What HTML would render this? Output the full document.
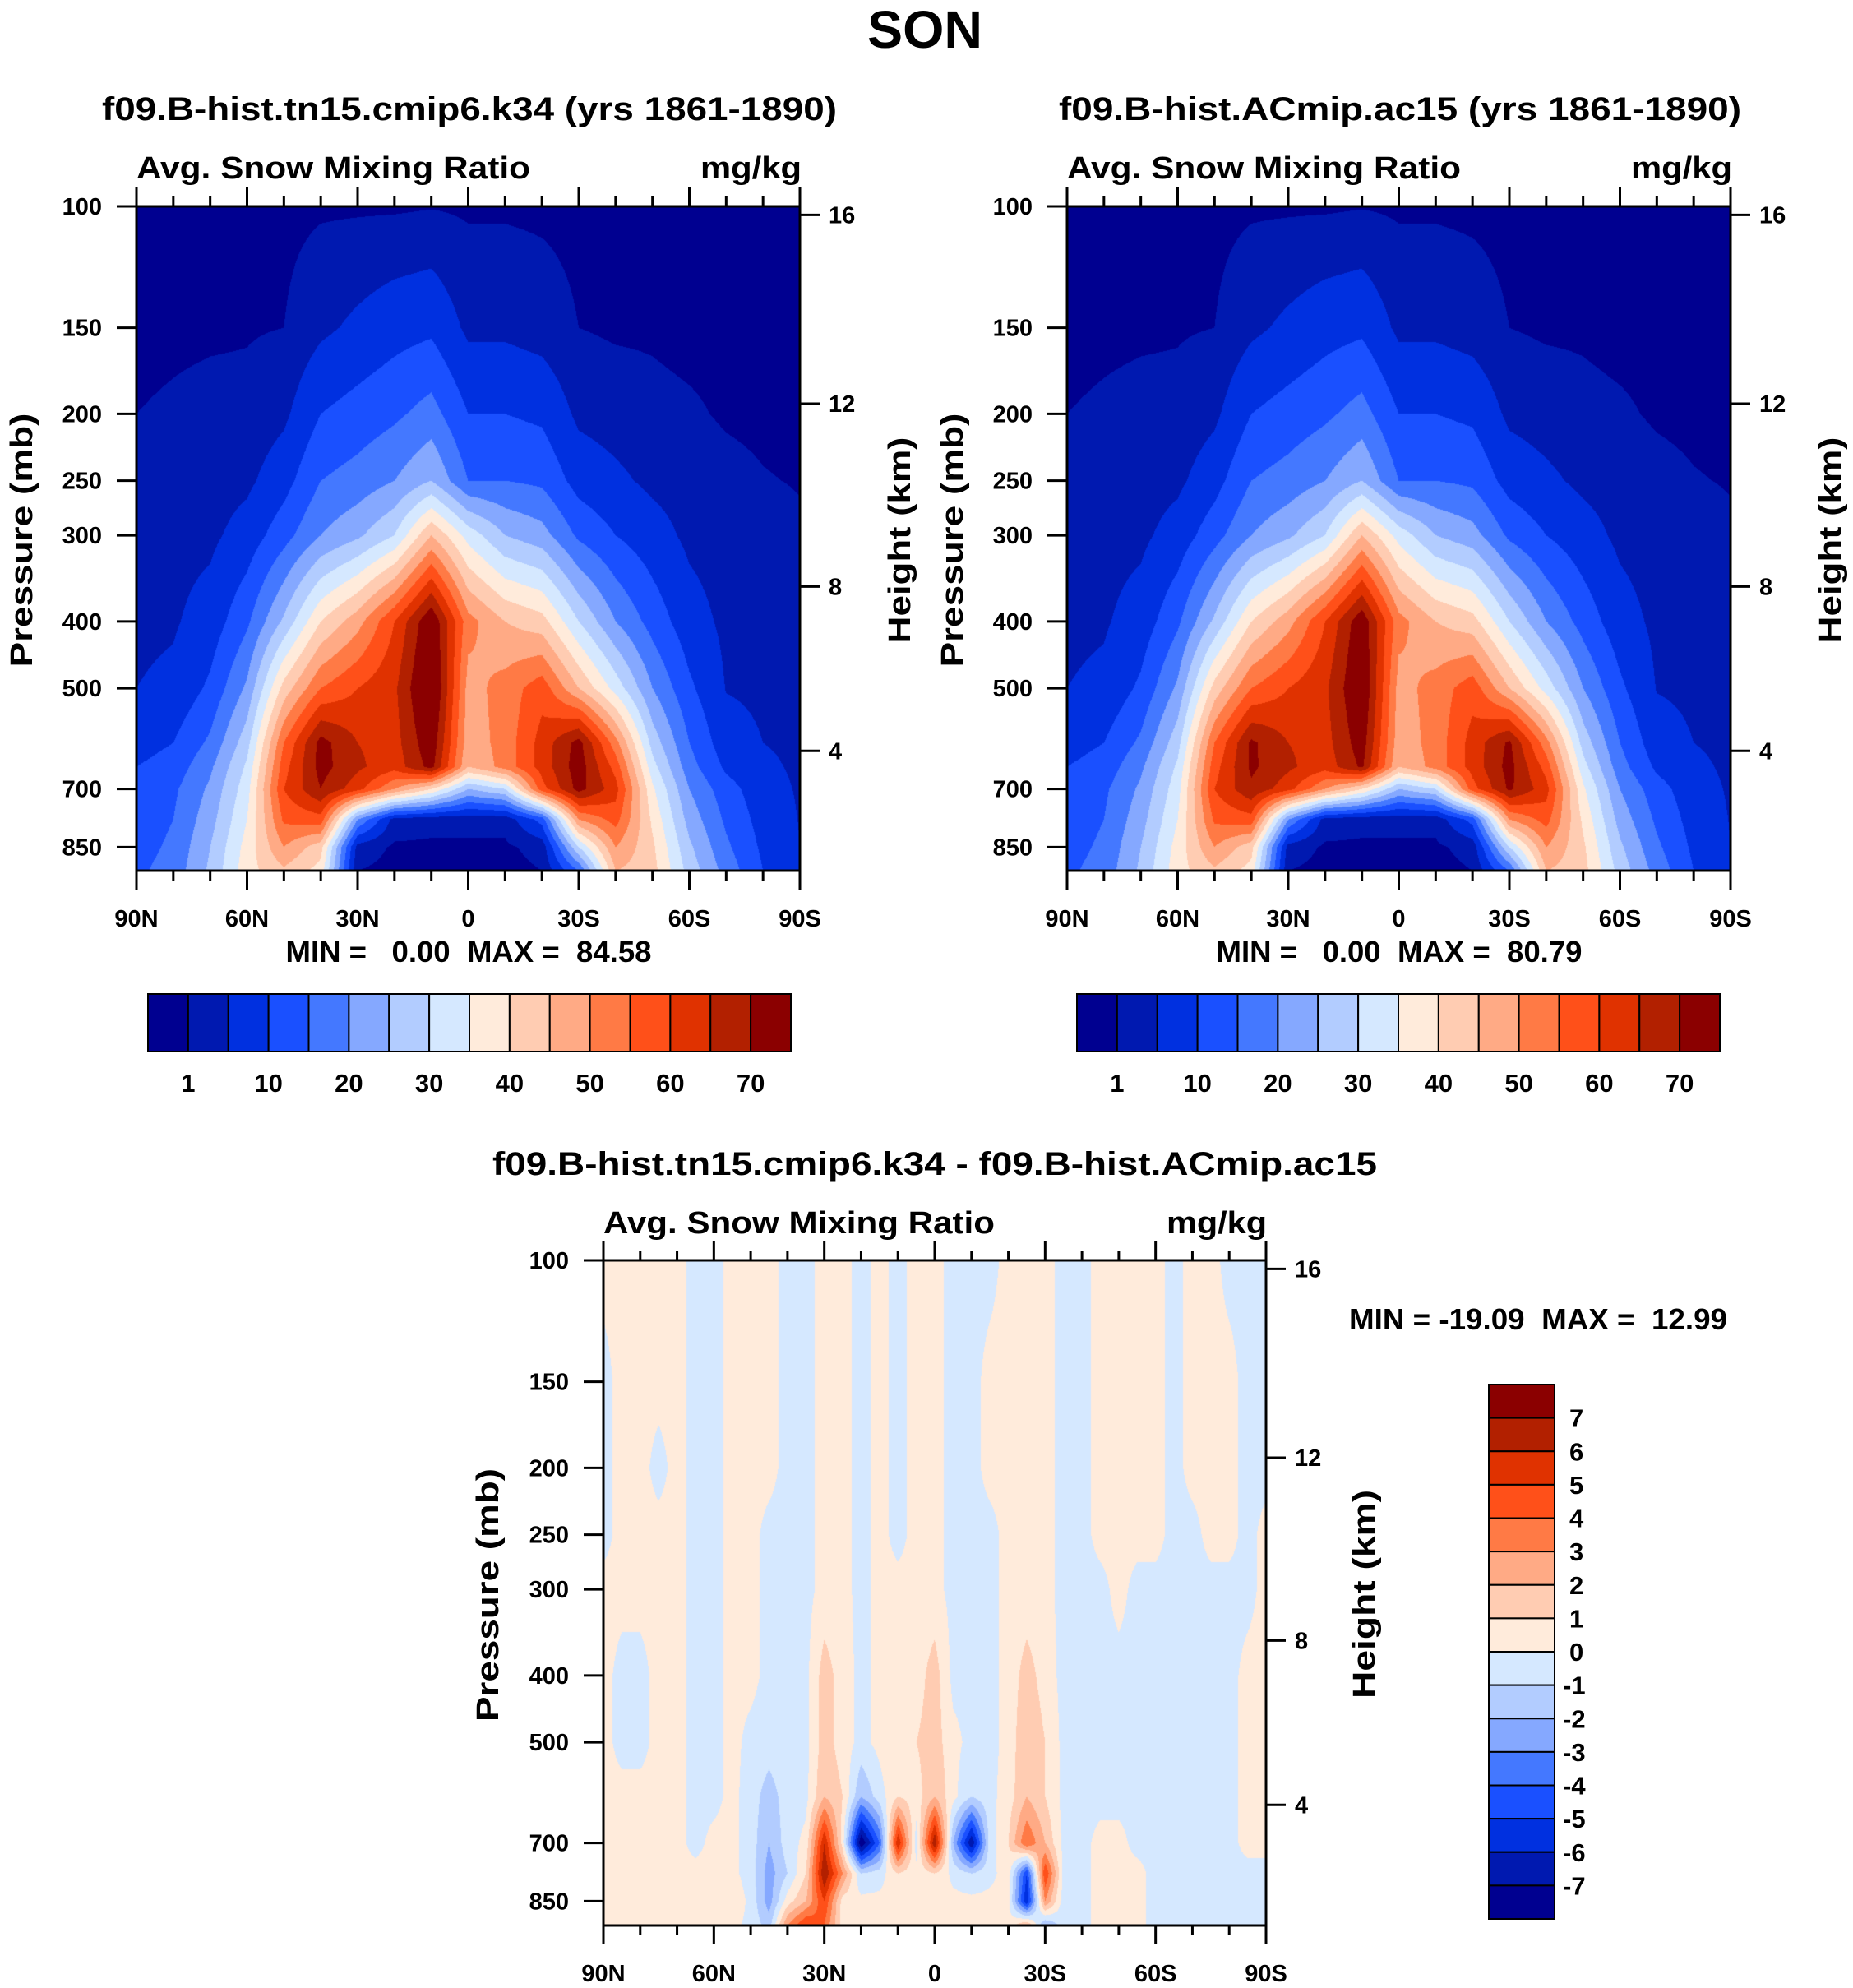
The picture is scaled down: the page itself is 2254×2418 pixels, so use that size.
<!DOCTYPE html>
<html><head><meta charset="utf-8">
<style>
html,body{margin:0;padding:0;background:#fff;}
#root{position:relative;width:2254px;height:2418px;overflow:hidden;background:#fff;}
canvas{position:absolute;}
svg{position:absolute;left:0;top:0;}
text{font-family:"Liberation Sans",Arial,sans-serif;font-weight:bold;fill:#000;white-space:pre;}
</style></head>
<body>
<div id="root">
<canvas id="cA" width="807" height="808" style="left:166px;top:251px"></canvas>
<canvas id="cB" width="807" height="808" style="left:1298px;top:251px"></canvas>
<canvas id="cC" width="806" height="809" style="left:734px;top:1533px"></canvas>
<svg id="ov" width="2254" height="2418" viewBox="0 0 2254 2418"></svg>
</div>
<script>
// ---- data ----
const lats = [90,80,70,60,50,40,30,20,10,0,-10,-20,-30,-40,-50,-60,-70,-80,-90];
const levels = [100,150,200,250,300,400,500,600,650,700,775,850,920];
// columns per latitude (values at each level, top to bottom)
const k34Cols = [
 [0,0,1,2,3,4,5,8,10,11,12,13,14],
 [0,0.3,1.5,2.5,3.5,4.5,6,10,12,14,15,16,17],
 [0,0.5,2,3,4,7,11,16,19,21,23,25,26],
 [0,0.7,2,4,7,14,21,28,31,33,35,37,38],
 [0,1,4,8,13,26,42,55,58,60,56,50,44],
 [0.5,4,10,15,20,40,55,72,72,70,58,42,38],
 [0.5,6,12,17,24,48,60,65,66,62,20,3,1],
 [0.5,8,14,20,30,60,64,63,62,50,3,0.5,0],
 [0.8,9,17,25,45,75,78,74,72,40,2,0.5,0],
 [0.5,4,10,15,33,52,48,47,45,25,2,0.5,0],
 [0.5,4,10,15,25,45,52,52,52,30,2,0.5,0],
 [0.3,3,9,14,22,42,58,62,62,58,12,2,1],
 [0,1,4,8,14,30,45,72,73,72,50,30,15],
 [0,0.5,3,6,10,20,33,52,58,62,57,50,45],
 [0,0.5,2,4,7,13,20,28,32,36,39,41,42],
 [0,0,1.5,3,4,7,11,15,17,20,23,26,28],
 [0,0,0.6,2,3,4,4.8,7,9,12,14,16,18],
 [0,0,0.3,1.2,2.5,3.5,4.2,5,6,7,8,9,10],
 [0,0,0,0.8,1.5,2.5,3.5,4,4.2,4.5,4.8,5,5]
];
const ac15Cols = [
 [0,0,1,2,3,4,5,8,10,11,12,13,14],
 [0,0.3,1.5,2.5,3.5,4.5,6,10,12,14,15,16,17],
 [0,0.5,2,3,4,7,11,16,19,21,23,25,26],
 [0,0.7,2,4,7,14,21,28,31,33,35,37,38],
 [0,1,4,8,13,26,42,55,58,60,56,50,44],
 [0.5,4,10,15,20,40,55,71,71,69,58,42,38],
 [0.5,6,12,17,24,48,60,65,66,62,20,3,1],
 [0.5,8,14,20,30,60,64,63,62,50,3,0.5,0],
 [0.8,9,17,25,45,74,76,73,71,40,2,0.5,0],
 [0.5,4,10,15,33,52,48,47,45,25,2,0.5,0],
 [0.5,4,10,15,25,45,52,52,52,30,2,0.5,0],
 [0.3,3,9,14,22,42,58,62,62,58,12,2,1],
 [0,1,4,8,14,30,45,71,72,71,50,30,15],
 [0,0.5,3,6,10,20,33,52,58,62,57,50,45],
 [0,0.5,2,4,7,13,20,28,32,36,39,41,42],
 [0,0,1.5,3,4,7,11,15,17,20,23,26,28],
 [0,0,0.6,2,3,4,4.8,7,9,12,14,16,18],
 [0,0,0.3,1.2,2.5,3.5,4.2,5,6,7,8,9,10],
 [0,0,0,0.8,1.5,2.5,3.5,4,4.2,4.5,4.8,5,5]
];
const diffLats = [90,85,80,75,70,65,60,55,50,45,40,35,30,25,20,15,10,5,0,-5,-10,-15,-20,-25,-30,-35,-40,-45,-50,-55,-60,-65,-70,-75,-80,-85,-90];
const diffLevels = [100,150,200,250,300,400,500,600,700,775,850,920];
const diffCols = [
 [.3,-.3,-.3,-.3,.3,.3,.3,.3,.3,.3,.3,.3],
 [.3,.3,.3,.3,.3,-.3,-.3,.3,.3,.3,.3,.3],
 [.3,.3,.3,.3,.3,-.3,-.3,.3,.3,.3,.3,.3],
 [.3,.3,-.3,.3,.3,.3,.3,.3,.3,.3,.3,.3],
 [.3,.3,.3,.3,.3,.3,.3,.3,.3,.3,.3,.3],
 [-.3,-.3,-.3,-.3,-.3,-.3,-.3,-.3,-.3,.3,.3,.3],
 [-.3,-.3,-.3,-.3,-.3,-.3,-.3,-.3,.3,.3,.3,.3],
 [.3,.3,.3,.3,.3,.3,.3,.3,.3,.3,.8,.3],
 [.3,.3,.3,.3,.3,.3,-.3,-.5,-.5,-.5,-.3,-.3],
 [.3,.3,.3,-.3,-.3,-.3,-.5,-1.5,-2,-2.5,-2.5,-1.5],
 [-.3,-.3,-.3,-.3,-.3,-.3,-.3,-.5,-.5,-1,.5,3],
 [-.3,-.3,-.3,-.3,-.3,-.3,-.3,-.3,.3,1,2,5],
 [.3,.3,.3,.3,.3,1.5,1.5,2,6,7,5,4],
 [.3,.3,.3,.3,.3,.5,.5,1,.5,3,.5,.5],
 [-.3,-.3,-.3,-.3,-.3,-.3,-.3,-2,-8,-1,.3,.3],
 [.3,.3,.3,.3,.3,.3,.3,-.5,-4,-.5,.3,.3],
 [-.3,-.3,-.3,-.3,.3,.5,1,1,6,1,.3,.3],
 [.3,.3,.3,.3,.3,.5,1,.5,-.5,.3,.3,.3],
 [.3,.3,.3,.3,.3,1.5,1.5,2,7,1,.3,.3],
 [-.3,-.3,-.3,-.3,-.3,-.3,.3,.3,-2,-.3,.3,.3],
 [-.3,-.3,-.3,-.3,-.3,-.3,-.3,-1,-7,-1,.3,.3],
 [-.3,.3,.3,-.3,-.3,-.3,-.3,-.3,-.5,-.3,.3,.3],
 [.3,.3,.3,.3,.3,.3,.3,.5,1,.5,.3,.3],
 [.3,.3,.3,.3,.3,1.5,2,2,4,-5,-6,2],
 [.3,.3,.3,.3,.3,.5,1,1,2,5,3,-2],
 [-.3,-.3,-.3,-.3,-.3,-.3,-.3,-.3,-.3,-.3,-.5,-.5],
 [-.3,-.3,-.3,-.3,-.3,-.3,-.3,-.3,-.3,-.3,-.3,-.3],
 [.3,.3,.3,.3,-.3,-.3,-.3,-.3,.3,.3,.3,.3],
 [.3,.3,.3,.3,.3,-.3,-.3,-.3,.3,.3,.3,.3],
 [.3,.3,.3,.3,-.3,-.3,-.3,-.3,-.3,.3,.3,.3],
 [.3,.3,.3,.3,-.3,-.3,-.3,-.3,-.3,-.3,-.3,-.3],
 [-.3,-.3,-.3,-.3,-.3,-.3,-.3,-.3,-.3,-.3,-.3,-.3],
 [.3,.3,.3,-.3,-.3,-.3,-.3,-.3,-.3,-.3,-.3,-.3],
 [.3,.3,.3,.3,-.3,-.3,-.3,-.3,-.3,-.3,-.3,-.3],
 [-.3,.3,.3,.3,-.3,-.3,-.3,-.3,-.3,-.3,-.3,-.3],
 [-.3,-.3,-.3,-.3,-.3,.3,.3,.3,.3,-.3,-.3,-.3],
 [-.3,-.3,-.3,.3,.3,.3,.3,.3,.3,-.3,-.3,-.3]
];
const snowThresholds = [1,5,10,15,20,25,30,35,40,45,50,55,60,65,70];
const snowLabels = ['1','10','20','30','40','50','60','70'];
const diffThresholds = [-7,-6,-5,-4,-3,-2,-1,0,1,2,3,4,5,6,7];
const diffLabels = ['7','6','5','4','3','2','1','0','-1','-2','-3','-4','-5','-6','-7'];
const pressureTicks = [100,150,200,250,300,400,500,700,850];
const kmTicks = [4,8,12,16];
const latMajor = [90,60,30,0,-30,-60,-90];
const latMajorLabels = ['90N','60N','30N','0','30S','60S','90S'];
const palette = ['#000090','#0019b0','#0030e0','#1a50ff','#4478ff','#85a8ff','#b2ccff','#d5e8ff','#ffebdb','#ffccb2','#ffaa85','#ff7a45','#ff5019','#e03200','#b22000','#8b0000'];

// ---- scales ----
const PPD = 838.5;
const PA = {x:166,y:251,w:807,h:808};
const PB = {x:1298,y:251,w:807,h:808};
const PC = {x:734,y:1533,w:806,h:809};
function yOf(p,P){return P.y+(Math.log10(p)-2)*PPD;}
function xOf(lat,P){return P.x+(90-lat)/180*P.w;}
function pOfKm(z){const m=z*1000; return m<=11000?1013.25*Math.pow(1-2.25577e-5*m,5.2559):226.32*Math.exp(-(m-11000)/6341.6);}
function hex(c){return [parseInt(c.substr(1,2),16),parseInt(c.substr(3,2),16),parseInt(c.substr(5,2),16)];}
const palRGB = palette.map(hex);

function renderField(id,P,la,lev,cols,thr){
  const cv=document.getElementById(id), ctx=cv.getContext('2d');
  const W=cv.width,H=cv.height, img=ctx.createImageData(W,H), d=img.data;
  const lg=lev.map(v=>Math.log10(v));
  const rowK=[],rowF=[];
  for(let y=0;y<H;y++){
    const lp=2+(y+0.5)/PPD; let k=0;
    while(k<lg.length-2 && lp>lg[k+1]) k++;
    rowK.push(k); rowF.push(Math.min(1,Math.max(0,(lp-lg[k])/(lg[k+1]-lg[k]))));
  }
  const colJ=[],colF=[];
  for(let x=0;x<W;x++){
    const lat=90-(x+0.5)/W*180; let j=0;
    while(j<la.length-2 && lat<la[j+1]) j++;
    colJ.push(j); colF.push(Math.min(1,Math.max(0,(la[j]-lat)/(la[j]-la[j+1]))));
  }
  for(let y=0;y<H;y++){const k=rowK[y],fy=rowF[y];
    for(let x=0;x<W;x++){const j=colJ[x],fx=colF[x];
      const a=cols[j][k],b=cols[j+1][k],c=cols[j][k+1],e=cols[j+1][k+1];
      const v=(a*(1-fx)+b*fx)*(1-fy)+(c*(1-fx)+e*fx)*fy;
      let idx=0; while(idx<thr.length && v>=thr[idx]) idx++;
      const col=palRGB[idx], o=(y*W+x)*4;
      d[o]=col[0];d[o+1]=col[1];d[o+2]=col[2];d[o+3]=255;}}
  ctx.putImageData(img,0,0);
}
renderField('cA',PA,lats,levels,k34Cols,snowThresholds);
renderField('cB',PB,lats,levels,ac15Cols,snowThresholds);
renderField('cC',PC,diffLats,diffLevels,diffCols,diffThresholds);

// ---- overlay ----
const NS='http://www.w3.org/2000/svg', svg=document.getElementById('ov');
function mk(tag,attrs){const e=document.createElementNS(NS,tag);for(const k in attrs)e.setAttribute(k,attrs[k]);svg.appendChild(e);return e;}
function line(x1,y1,x2,y2,w){return mk('line',{x1:x1,y1:y1,x2:x2,y2:y2,stroke:'#000','stroke-width':w||3});}
function txt(x,y,s,size,anchor,extra){const e=mk('text',Object.assign({x:x,y:y,'font-size':size,'text-anchor':anchor||'middle'},extra||{}));e.textContent=s;return e;}

function axes(P,pfx,narrow){
  const fam = narrow?{'font-family':'"Liberation Sans Narrow","Liberation Sans",sans-serif'}:{};
  const fr=mk('rect',{x:P.x,y:P.y,width:P.w,height:P.h,fill:'none',stroke:'#000','stroke-width':3});
  
  
  pressureTicks.forEach(p=>{const y=yOf(p,P);
    const t=line(P.x-24,y,P.x,y);
    
    
    const l=txt(P.x-42,y+10,String(p),29,'end',fam);
    
    });
  kmTicks.forEach(z=>{const y=yOf(pOfKm(z),P);
    const t=line(P.x+P.w,y,P.x+P.w+24,y);
    
    
    const l=txt(P.x+P.w+35,y+10,String(z),29,'start',fam);
    
    });
  for(let lat=90;lat>=-90;lat-=10){const x=xOf(lat,P), major=(lat%30===0), len=major?23:12;
    const t1=line(x,P.y-len,x,P.y,3);
    
    
    const t2=line(x,P.y+P.h,x,P.y+P.h+len,3);
    
    }
  latMajor.forEach((lat,i)=>{
    const l=txt(xOf(lat,P),P.y+P.h+68,latMajorLabels[i],29,'middle',fam);
    
    });
}
axes(PA,'k34',false);
axes(PB,'ac15',false);
axes(PC,'diff',true);

function fit(e,len){e.setAttribute('textLength',len);e.setAttribute('lengthAdjust','spacingAndGlyphs');}
let t;
t=txt(1125,58,'SON',64,'middle'); fit(t,140);


t=txt(571,146,'f09.B-hist.tn15.cmip6.k34 (yrs 1861-1890)',40,'middle'); fit(t,894);


t=txt(1703,146,'f09.B-hist.ACmip.ac15 (yrs 1861-1890)',40,'middle'); fit(t,830);


[[PA,'k34'],[PB,'ac15']].forEach(([P,pf])=>{
  let a=txt(P.x,217,'Avg. Snow Mixing Ratio',38,'start'); fit(a,479);
  
  
  a=txt(P.x+P.w+2,217,'mg/kg',38,'end'); fit(a,123);
  
  
  const px=P.x-127;
  a=txt(px,657,'Pressure (mb)',38,'middle',{transform:'rotate(-90 '+px+' 657)'}); fit(a,309);
  
  
  const hx=P.x+P.w+134;
  a=txt(hx,657,'Height (km)',38,'middle',{transform:'rotate(-90 '+hx+' 657)'}); fit(a,251);
  
  
});
t=txt(570,1170,'MIN =   0.00  MAX =  84.58',36,'middle'); fit(t,445);


t=txt(1702,1170,'MIN =   0.00  MAX =  80.79',36,'middle'); fit(t,445);



// horizontal colorbars
[[180,'k34'],[1310,'ac15']].forEach(([x0,pf])=>{
  const w=782/16;
  palette.forEach((c,i)=>{const r=mk('rect',{x:x0+i*w,y:1209,width:w,height:70,fill:c,stroke:'#000','stroke-width':2});
    
    });
  snowLabels.forEach((s,i)=>{const l=txt(x0+(1+2*i)*w,1328,s,31,'middle');
    
    });
});

// difference panel texts
const NAR={'font-family':'"Liberation Sans Narrow","Liberation Sans",sans-serif'};
t=txt(1137,1429,'f09.B-hist.tn15.cmip6.k34 - f09.B-hist.ACmip.ac15',40,'middle',NAR); fit(t,1076);


t=txt(734,1500,'Avg. Snow Mixing Ratio',38,'start',NAR); fit(t,476);


t=txt(1541,1500,'mg/kg',38,'end',NAR); fit(t,122);


t=txt(606,1940,'Pressure (mb)',38,'middle',{transform:'rotate(-90 606 1940)'}); fit(t,308);


t=txt(1672,1939,'Height (km)',38,'middle',{transform:'rotate(-90 1672 1939)'}); fit(t,254);


t=txt(1641,1617,'MIN = -19.09  MAX =  12.99',36,'start'); fit(t,460);


// vertical colorbar
(function(){const x0=1811,y0=1684,h=650/16;
  palette.slice().reverse().forEach((c,i)=>{const r=mk('rect',{x:x0,y:y0+i*h,width:80,height:h,fill:c,stroke:'#000','stroke-width':2});
    
    });
  diffLabels.forEach((s,i)=>{const l=txt(s.charAt(0)==='-'?1901:1909,y0+(i+1)*h+11,s,31,'start');
    
    });
})();
</script>
</body></html>
